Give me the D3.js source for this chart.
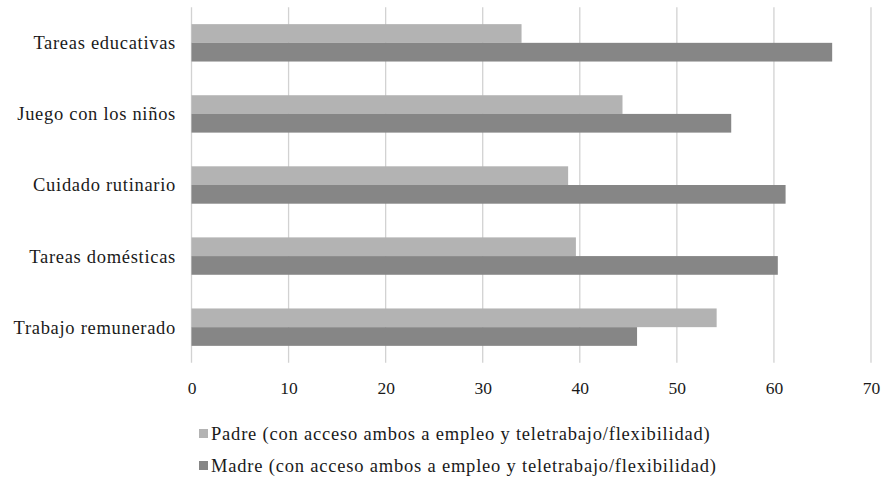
<!DOCTYPE html>
<html>
<head>
<meta charset="utf-8">
<script src="https://cdn.jsdelivr.net/npm/d3@7"></script>
<style>
  html, body { margin: 0; padding: 0; background: #fff; }
  svg { display: block; }
</style>
</head>
<body>
<svg id="chart" width="883" height="481"></svg>
<script>
// Activities, listed top to bottom
const categories = [
  "Tareas educativas",
  "Juego con los niños",
  "Cuidado rutinario",
  "Tareas domésticas",
  "Trabajo remunerado"
];
const padreValues = [34.0, 44.4, 38.8, 39.6, 54.1];
const madreValues = [66.0, 55.6, 61.2, 60.4, 45.9];
const seriesNames = [
  "Padre (con acceso ambos a empleo y teletrabajo/flexibilidad)",
  "Madre (con acceso ambos a empleo y teletrabajo/flexibilidad)"
];
const seriesColors = ["#b3b3b3", "#868686"];
const xTicks = [0, 10, 20, 30, 40, 50, 60, 70];

const FONT = "'Liberation Serif', 'Times New Roman', serif";
const TEXT_COLOR = "#1a1a1a";

const svg = d3.select("#chart");
const plot = { left: 191.5, right: 871, top: 7.3, bottom: 362.7 };

const x = d3.scaleLinear().domain([0, 70]).range([plot.left, plot.right]);
const y = d3.scaleBand().domain(categories).range([plot.top, plot.bottom]);

// vertical gridlines
svg.append("g")
  .selectAll("line")
  .data(xTicks)
  .join("line")
  .attr("x1", d => x(d)).attr("x2", d => x(d))
  .attr("y1", plot.top).attr("y2", plot.bottom)
  .attr("stroke", "#d2d2d2")
  .attr("stroke-width", 1.3);

// bars: two stacked rows per activity, centred in the band
const series = [padreValues, madreValues];
const bh = y.bandwidth() * 0.263;
const off0 = y.bandwidth() / 2 - bh;
svg.append("g").selectAll("g")
  .data(categories)
  .join("g")
  .attr("transform", d => `translate(0,${y(d)})`)
  .selectAll("rect")
  .data((d, i) => series.map((s, k) => ({ k, v: s[i] })))
  .join("rect")
  .attr("x", x(0))
  .attr("y", d => off0 + d.k * bh)
  .attr("width", d => x(d.v) - x(0))
  .attr("height", bh)
  .attr("fill", d => seriesColors[d.k]);

// category labels
svg.append("g")
  .selectAll("text")
  .data(categories)
  .join("text")
  .attr("x", 176)
  .attr("y", d => y(d) + y.bandwidth() / 2)
  .attr("dy", "0.35em")
  .attr("text-anchor", "end")
  .style("font-family", FONT)
  .style("font-size", "18.5px")
  .style("letter-spacing", "0.7px")
  .style("fill", TEXT_COLOR)
  .text(d => d);

// x axis tick labels
const xAxis = d3.axisBottom(x).tickValues(xTicks).tickSize(0).tickPadding(0);
const ax = svg.append("g")
  .attr("transform", `translate(0,${plot.bottom})`)
  .call(xAxis);
ax.select(".domain").remove();
ax.selectAll("text")
  .attr("y", 25)
  .attr("dy", "0.35em")
  .style("font-family", FONT)
  .style("font-size", "17.5px")
  .style("fill", TEXT_COLOR);

// legend
const legend = svg.append("g").selectAll("g")
  .data(seriesNames)
  .join("g")
  .attr("transform", (d, i) => `translate(199,${434 + i * 32})`);
legend.append("rect")
  .attr("x", 0).attr("y", -5)
  .attr("width", 9).attr("height", 9)
  .attr("fill", (d, i) => seriesColors[i]);
legend.append("text")
  .attr("x", 12)
  .attr("y", 0)
  .attr("dy", "0.35em")
  .style("font-family", FONT)
  .style("font-size", "18.5px")
  .style("letter-spacing", "0.8px")
  .style("fill", TEXT_COLOR)
  .text(d => d);
</script>
</body>
</html>
